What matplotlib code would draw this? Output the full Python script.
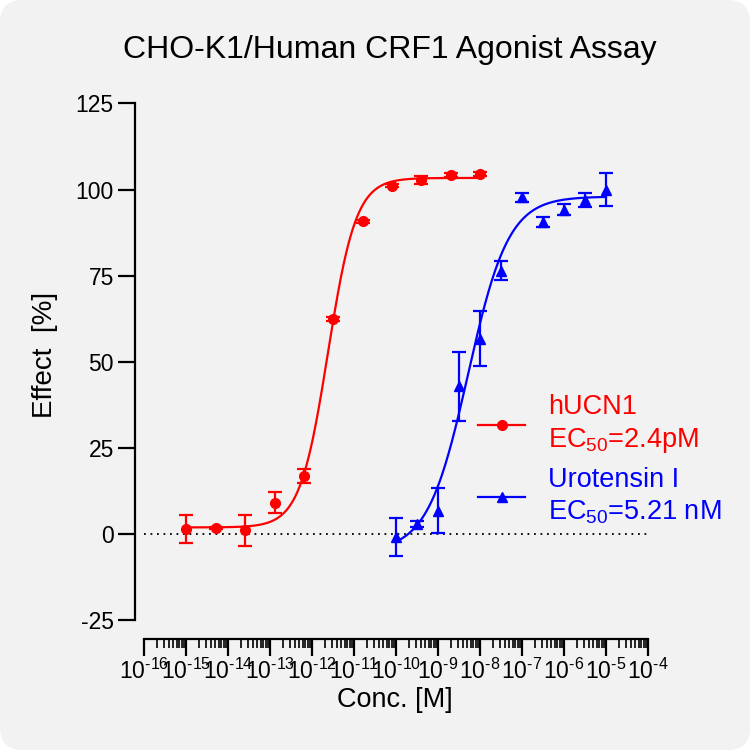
import matplotlib
matplotlib.use("Agg")
import matplotlib.pyplot as plt
import numpy as np
from matplotlib.patches import FancyBboxPatch
from matplotlib.lines import Line2D
from matplotlib.ticker import LogLocator, NullFormatter, FixedLocator

plt.rcParams['font.family'] = ['Liberation Sans', 'DejaVu Sans']
plt.rcParams['mathtext.fontset'] = 'custom'
plt.rcParams['mathtext.rm'] = 'Liberation Sans'
plt.rcParams['mathtext.it'] = 'Liberation Sans:italic'
plt.rcParams['mathtext.bf'] = 'Liberation Sans:bold'
plt.rcParams['axes.unicode_minus'] = False

# ---------------- data ----------------
conc_hucn1 = [1.02e-15, 5.12e-15, 2.56e-14, 1.28e-13, 6.4e-13, 3.2e-12,
              1.6e-11, 8.0e-11, 4.0e-10, 2.0e-9, 1.0e-8]
eff_hucn1 = [1.5, 1.8, 1.2, 9.2, 16.9, 62.5, 90.8, 101.2, 102.7, 104.2, 104.6]
err_hucn1 = [4.0, 0.4, 4.5, 3.0, 2.0, 0.5, 0.5, 0.5, 1.2, 0.5, 0.5]

conc_uro = [1.0e-10, 3.16e-10, 1.0e-9, 3.16e-9, 1.0e-8, 3.16e-8,
            1.0e-7, 3.16e-7, 1.0e-6, 3.16e-6, 1.0e-5]
eff_uro = [-0.8, 3.0, 6.8, 43.0, 56.8, 76.5, 97.8, 90.6, 94.2, 97.1, 100.0]
err_uro = [5.4, 1.0, 6.5, 10.0, 8.0, 2.7, 1.3, 1.5, 1.5, 2.0, 4.7]

# 4-parameter logistic fit parameters (bottom, top, logEC50, hill)
fit_hucn1 = (2.0, 103.4, np.log10(2.4e-12), 1.3)
fit_uro = (-5.0, 98.0, np.log10(5.21e-9), 0.9)
fit_range_hucn1 = (1.02e-15, 1.0e-8)
fit_range_uro = (1.0e-10, 1.0e-5)

label_hucn1 = "hUCN1\nEC$_{50}$=2.4pM"
label_uro = "Urotensin I\nEC$_{50}$=5.21 nM"
xtick_exponents = list(range(-16, -3))
yticks = [-25, 0, 25, 50, 75, 100, 125]

red = '#ff0000'
blue = '#0000ff'
bg = '#f2f2f2'


def four_pl(x, p):
    b, t, lec, h = p
    return b + (t - b) / (1 + 10 ** ((lec - np.log10(x)) * h))


fig = plt.figure(figsize=(7.5, 7.5), dpi=100)
fig.patch.set_facecolor('white')
fig.patches.append(FancyBboxPatch((0, 0), 1, 1, boxstyle="round,pad=0,rounding_size=0.03",
                                  transform=fig.transFigure, facecolor=bg, edgecolor='none',
                                  zorder=-10))

ax = fig.add_axes([0.192, 0.1727, 0.672, 0.6893])
ax.set_facecolor('none')
ax.set_xscale('log')
ax.set_xlim(1e-16, 1e-4)
ax.set_ylim(-25, 125)

# zero line
ax.axhline(0, color='black', linestyle=(0, (1, 2.6)), linewidth=1.3, zorder=1)

# fit curves
xs = np.logspace(np.log10(fit_range_hucn1[0]), np.log10(fit_range_hucn1[1]), 400)
ax.plot(xs, four_pl(xs, fit_hucn1), color=red, lw=1.6, zorder=3)
xs = np.logspace(np.log10(fit_range_uro[0]), np.log10(fit_range_uro[1]), 400)
ax.plot(xs, four_pl(xs, fit_uro), color=blue, lw=1.6, zorder=3)

# data
ax.errorbar(conc_hucn1, eff_hucn1, yerr=err_hucn1, fmt='o', color=red, ms=7,
            elinewidth=1.6, capsize=5, capthick=1.6, zorder=4)
ax.errorbar(conc_uro, eff_uro, yerr=err_uro, fmt='^', color=blue, ms=7,
            elinewidth=1.6, capsize=5, capthick=1.6, zorder=4)

# spines
for s in ['top', 'right']:
    ax.spines[s].set_visible(False)
ax.spines['left'].set_position(('outward', 6.7))
ax.spines['bottom'].set_position(('outward', 13.3))
for s in ['left', 'bottom']:
    ax.spines[s].set_linewidth(1.6)

ax.set_yticks(yticks)
ax.xaxis.set_major_locator(FixedLocator([10.0 ** e for e in xtick_exponents]))
ax.xaxis.set_minor_locator(LogLocator(base=10, subs=np.arange(2, 10), numticks=100))
ax.xaxis.set_minor_formatter(NullFormatter())
ax.set_xticklabels([r'$\mathregular{10^{\text{-}%d}}$' % (-e) for e in xtick_exponents])

ax.tick_params(axis='both', which='major', direction='out', length=12, width=1.6,
               labelsize=16.5, color='black', labelcolor='black')
ax.tick_params(axis='x', which='minor', direction='out', length=6.5, width=1.2)
ax.tick_params(axis='x', which='major', pad=2)
ax.tick_params(axis='y', which='major', pad=3)

fig.text(395 / 750, 1 - 700 / 750, 'Conc. [M]', fontsize=19.5, ha='center', va='center')
fig.text(45 / 750, 1 - 355 / 750, 'Effect  [%]', fontsize=20, ha='center', va='center',
         rotation=90)
fig.text(390 / 750, 1 - 50 / 750, 'CHO-K1/Human CRF1 Agonist Assay', fontsize=23,
         ha='center', va='center')

handles = [Line2D([0], [0], color=red, marker='o', ms=7, lw=1.6),
           Line2D([0], [0], color=blue, marker='^', ms=7, lw=1.6)]
leg = ax.legend(handles, [label_hucn1, label_uro], loc='upper left',
                bbox_to_anchor=(0.642, 0.459), borderaxespad=0, frameon=False,
                fontsize=19.5, handlelength=1.73, handletextpad=0.85,
                labelspacing=0.42, labelcolor='linecolor')
for t in leg.get_texts():
    t.set_linespacing(1.3)

fig.savefig('out.png', dpi=100, facecolor=fig.get_facecolor())
